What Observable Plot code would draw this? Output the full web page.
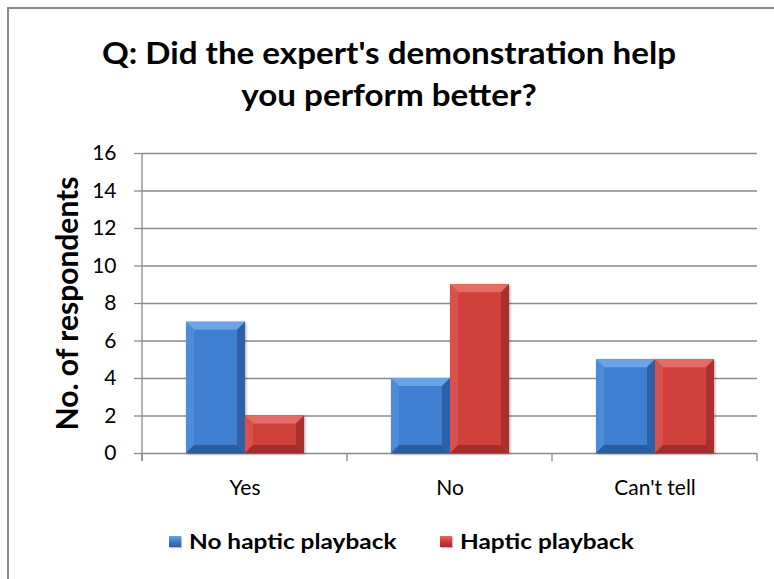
<!DOCTYPE html>
<html>
<head>
<meta charset="utf-8">
<script src="https://cdn.jsdelivr.net/npm/d3@7"></script>
<script src="https://cdn.jsdelivr.net/npm/@observablehq/plot@0.6"></script>
<style>
  body { margin: 0; background: #fff; font-family: Lato, "Open Sans", sans-serif; }
  #chart { position: relative; width: 774px; height: 579px; overflow: hidden; background: #fff; }
  #frame { position: absolute; left: 7px; top: 7px; width: 900px; height: 700px;
           border-left: 2px solid #898989; border-top: 2px solid #898989; }
  #title { position: absolute; left: 8px; width: 762px; top: 31px; text-align: center;
           font-weight: bold; font-size: 31px; line-height: 42px; color: #000;
           transform: scaleX(1.07); transform-origin: 381px 0; }
  #plot { position: absolute; left: 0; top: 140px; }
  #legend { position: absolute; top: 529px; left: 0; width: 774px; height: 24px;
            font-weight: bold; font-size: 20px; line-height: 24px; color: #000; }
  .key { display: inline-block; width: 12px; height: 11px; margin-right: 8px; box-shadow: 1px 1px 1px rgba(0,0,0,0.25); }
  .item { position: absolute; top: 0; display: flex; align-items: center; white-space: nowrap; }
  .item .label { display: inline-block; transform: scaleX(1.22); transform-origin: 0 50%; }
</style>
</head>
<body>
<div id="chart">
  <div id="frame"></div>
  <div id="title">Q: Did the expert's demonstration help<br>you perform better?</div>
  <div id="plot"></div>
  <div id="legend"></div>
</div>
<script>
// Survey answers per condition
const categories = ["Yes", "No", "Can't tell"];
const series = ["No haptic playback", "Haptic playback"];
const noHaptic = [7, 4, 5];
const haptic = [2, 9, 5];
const yTicks = [0, 2, 4, 6, 8, 10, 12, 14, 16];
const yLabel = "No. of respondents";
const colors = ["#3f7fcf", "#d0403c"];

// bevel shades per series: [top, left, right, bottom]
const bevels = [
  ["#6aa3e8", "#4f8ddb", "#2c5fa3", "#2a5b9c"],
  ["#e56b66", "#da524d", "#a92f2c", "#9f2c29"]
];

const rows = categories.flatMap((c, i) => [
  {category: c, series: series[0], value: noHaptic[i]},
  {category: c, series: series[1], value: haptic[i]}
]);

const W = 774, H = 365, ML = 141, MR = 17, MT = 13, MB = 52;

const chart = Plot.plot({
  width: W, height: H,
  marginLeft: ML, marginRight: MR, marginTop: MT, marginBottom: MB,
  style: {fontFamily: "Lato, 'Open Sans', sans-serif", fontSize: "21px", color: "#000", background: "transparent", overflow: "visible"},
  fx: {domain: categories, padding: 0, label: null},
  x: {domain: series, paddingInner: 0, paddingOuter: 0.71, axis: null},
  y: {domain: [0, 16], label: null},
  color: {domain: series, range: colors},
  marks: [
    Plot.gridY(yTicks, {stroke: "#8a8a8a", strokeOpacity: 1, strokeWidth: 1.3}),
    Plot.axisY(yTicks, {tickSize: 8, tickPadding: 18, stroke: "#8a8a8a", strokeWidth: 1.3,
      fontSize: 21, fill: "#000", label: null}),
    Plot.axisFx({anchor: "bottom", tickSize: 0, tickPadding: 27, fontSize: 21, fill: "#000", label: null}),
    Plot.barY(rows, {fx: "category", x: "series", y: "value", fill: "series"}),
    Plot.text([yLabel], {fx: () => categories[0], frameAnchor: "left", textAnchor: "middle",
      dx: -74, rotate: -90, fontWeight: "bold", fontSize: 30, fill: "#000"})
  ]
});

document.getElementById("plot").appendChild(chart);

// category-axis line and boundary ticks, placed with the chart's own scales
const svg = d3.select(chart);
const fx = chart.scale("fx"), y = chart.scale("y");
const y0 = y.apply(0), y16 = y.apply(16);
const edges = categories.map(c => fx.apply(c)).concat([fx.apply(categories.at(-1)) + fx.bandwidth]);
const axisG = svg.append("g").attr("stroke", "#8a8a8a").attr("stroke-width", 1.3);
axisG.append("line").attr("x1", edges[0]).attr("x2", edges[0]).attr("y1", y16).attr("y2", y0 + 8);
edges.forEach(e => axisG.append("line").attr("x1", e).attr("x2", e).attr("y1", y0).attr("y2", y0 + 8));

// bevelled faces on each bar
svg.selectAll("g[aria-label=bar]").style("filter", "drop-shadow(1px 1px 1.5px rgba(0,0,0,0.35))");
svg.selectAll("g[aria-label=bar] rect").each(function() {
  const r = d3.select(this);
  const x = +r.attr("x"), yy = +r.attr("y"), w = +r.attr("width"), h = +r.attr("height");
  const fill = r.attr("fill");
  const k = colors.indexOf(fill) >= 0 ? colors.indexOf(fill) : 0;
  const [top, left, right, bottom] = bevels[k];
  const b = Math.min(8, h / 2, w / 2);
  const g = d3.select(this.parentNode);
  const poly = (pts, c, o) => g.append("polygon")
    .attr("points", pts.map(p => p.join(",")).join(" "))
    .attr("fill", c).attr("opacity", o);
  poly([[x, yy], [x + w, yy], [x + w - b, yy + b], [x + b, yy + b]], top, 1);
  poly([[x, yy], [x + b, yy + b], [x + b, yy + h - b], [x, yy + h]], left, 0.9);
  poly([[x + w, yy], [x + w, yy + h], [x + w - b, yy + h - b], [x + w - b, yy + b]], right, 0.95);
  poly([[x, yy + h], [x + b, yy + h - b], [x + w - b, yy + h - b], [x + w, yy + h]], bottom, 0.95);
});

// legend
const legendLeft = [169, 440];
const legend = d3.select("#legend");
series.forEach((s, i) => {
  const item = legend.append("div").attr("class", "item").style("left", legendLeft[i] + "px");
  item.append("span").attr("class", "key")
    .style("background", `linear-gradient(to bottom, ${bevels[i][0]} 0%, ${colors[i]} 45%, ${bevels[i][3]} 100%)`);
  item.append("span").attr("class", "label").text(s);
});
</script>
</body>
</html>
